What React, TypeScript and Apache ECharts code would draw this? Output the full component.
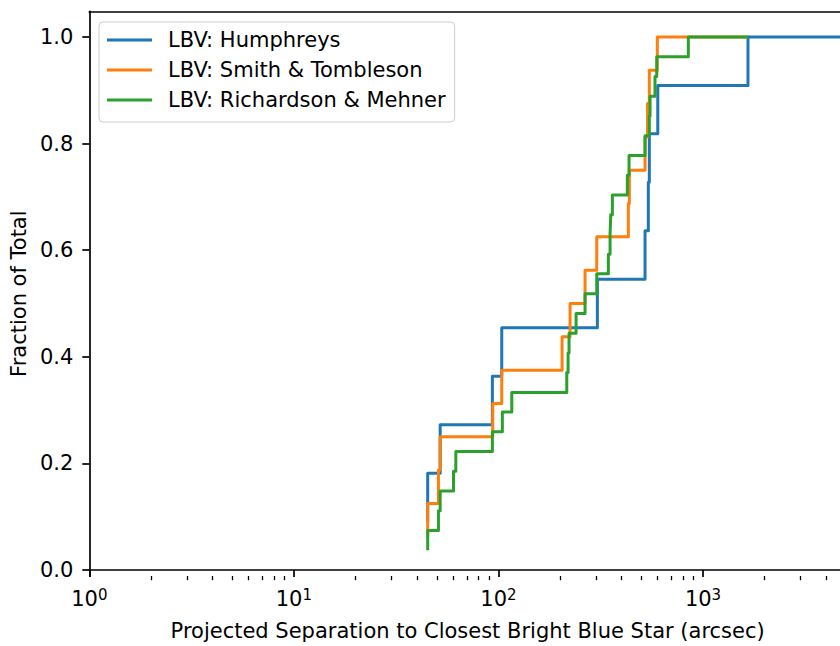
import React, { useEffect, useRef } from "react";
import * as echarts from "echarts";

const seriesNames = ["LBV: Humphreys", "LBV: Smith & Tombleson", "LBV: Richardson & Mehner"];
const seriesColors = ["#1f77b4", "#ff7f0e", "#2ca02c"];

// Step corners: separation (arcsec) where the cumulative fraction jumps, and the fraction reached
const humphreysSep = [45.1, 45.1, 51.9, 93.4, 103.8, 304.5, 520.8, 540.4, 546.5, 601, 1659, 5000];
const humphreysFrac = [0.0909, 0.1818, 0.2727, 0.3636, 0.4545, 0.5455, 0.6364, 0.7273, 0.8182, 0.9091, 1.0, 1.0];

const smithSep = [45.1, 45.1, 50.9, 51.9, 93.8, 103.8, 204.7, 223.9, 265.1, 302.4, 431.5, 436.5, 520.8, 535.6, 546.5, 598, 1659];
const smithFrac = [0.0625, 0.125, 0.1875, 0.25, 0.3125, 0.375, 0.4375, 0.5, 0.5625, 0.625, 0.6875, 0.75, 0.8125, 0.875, 0.9375, 1.0, 1.0];

const richardsonSep = [45.1, 45.1, 50.9, 51.9, 60.3, 61.9, 93.4, 104.5, 116.2, 215.8, 219, 221.4, 239.6, 265.1, 302.4, 344.6, 351.3, 354, 360.5, 426.7, 435, 520.8, 546.5, 551, 582.6, 593.9, 847.6, 1659];
const richardsonFrac = [0.037, 0.0741, 0.1111, 0.1481, 0.1852, 0.2222, 0.2593, 0.2963, 0.3333, 0.3704, 0.4074, 0.4444, 0.4815, 0.5185, 0.5556, 0.5926, 0.6296, 0.6667, 0.7037, 0.7407, 0.7778, 0.8148, 0.8519, 0.8889, 0.9259, 0.963, 1.0, 1.0];

const xMajorTicks = [1, 10, 100, 1000];
const xMinorTicks = [2, 3, 4, 5, 6, 7, 8, 9, 20, 30, 40, 50, 60, 70, 80, 90, 200, 300, 400, 500, 600, 700, 800, 900, 2000, 3000, 4000];
const yTicks = [0, 0.2, 0.4, 0.6, 0.8, 1.0];

const xRange = [1, 5000];
const yRange = [-0.0111, 1.0481];

const FONT = "DejaVu Sans";

export default function App() {
  const ref = useRef<HTMLDivElement>(null);
  useEffect(() => {
    const chart = echarts.init(ref.current!, null, { renderer: "svg" });
    const sepLists = [humphreysSep, smithSep, richardsonSep];
    const fracLists = [humphreysFrac, smithFrac, richardsonFrac];
    chart.setOption({
      animation: false,
      backgroundColor: "#ffffff",
      textStyle: { fontFamily: FONT },
      grid: { left: 89, top: 11.3, width: 757, height: 565.6 },
      legend: {
        orient: "vertical",
        left: 99,
        top: 22,
        itemWidth: 45,
        itemHeight: 3,
        itemGap: 6,
        padding: [6, 9, 10, 8],
        backgroundColor: "rgba(255,255,255,0.8)",
        borderColor: "#cccccc",
        borderWidth: 1,
        borderRadius: 4,
        selectedMode: false,
        textStyle: { fontSize: 21, fontFamily: FONT, color: "#000", lineHeight: 24, padding: [0, 0, 0, 11] },
        data: seriesNames.map((n) => ({ name: n, icon: "rect" })),
      },
      xAxis: [
        {
          type: "log",
          logBase: 10,
          min: xRange[0],
          max: xRange[1],
          position: "bottom",
          name: "Projected Separation to Closest Bright Blue Star (arcsec)",
          nameLocation: "middle",
          nameGap: 44,
          nameTextStyle: { fontSize: 21, fontFamily: FONT, color: "#000" },
          axisLine: { show: true, lineStyle: { color: "#000", width: 1.7 } },
          axisTick: { show: true, customValues: xMajorTicks, length: 7, lineStyle: { color: "#000", width: 1.7 } },
          axisLabel: {
            show: true,
            customValues: xMajorTicks,
            margin: 11,
            color: "#000",
            formatter: (v: number) => `{b|10}{s|${Math.round(Math.log10(v))}}`,
            rich: {
              b: { fontSize: 21, fontFamily: FONT, color: "#000", lineHeight: 24 },
              s: { fontSize: 15, fontFamily: FONT, color: "#000", verticalAlign: "top", lineHeight: 15 },
            },
          },
          splitLine: { show: false },
          minorTick: { show: false },
        },
        {
          type: "log",
          logBase: 10,
          min: xRange[0],
          max: xRange[1],
          position: "bottom",
          axisLine: { show: false },
          axisTick: { show: true, customValues: xMinorTicks, length: 4.2, lineStyle: { color: "#000", width: 1.3 } },
          axisLabel: { show: false },
          splitLine: { show: false },
        },
        {
          type: "log",
          logBase: 10,
          min: xRange[0],
          max: xRange[1],
          position: "top",
          axisLine: { show: true, lineStyle: { color: "#000", width: 1.7 } },
          axisTick: { show: false },
          axisLabel: { show: false },
          splitLine: { show: false },
        },
      ],
      yAxis: {
        type: "value",
        min: yRange[0],
        max: yRange[1],
        name: "Fraction of Total",
        nameLocation: "middle",
        nameGap: 56,
        nameTextStyle: { fontSize: 21, fontFamily: FONT, color: "#000" },
        axisLine: { show: true, lineStyle: { color: "#000", width: 1.7 } },
        axisTick: { show: true, customValues: yTicks, length: 7, lineStyle: { color: "#000", width: 1.7 } },
        axisLabel: {
          customValues: yTicks,
          margin: 16,
          fontSize: 21,
          fontFamily: FONT,
          color: "#000",
          formatter: (v: number) => v.toFixed(1),
        },
        splitLine: { show: false },
      },
      series: seriesNames.map((name, i) => ({
        name,
        type: "line",
        step: "end",
        xAxisIndex: 0,
        showSymbol: false,
        symbol: "none",
        color: seriesColors[i],
        lineStyle: { width: 3, color: seriesColors[i], join: "round" },
        data: sepLists[i].map((x, j) => [x, fracLists[i][j]]),
      })),
    });
    return () => chart.dispose();
  }, []);
  return (
    <div style={{ position: "fixed", left: 0, top: 0, width: 840, height: 646, overflow: "hidden", background: "#fff" }}>
      <div ref={ref} style={{ width: 846, height: 646 }} />
    </div>
  );
}
